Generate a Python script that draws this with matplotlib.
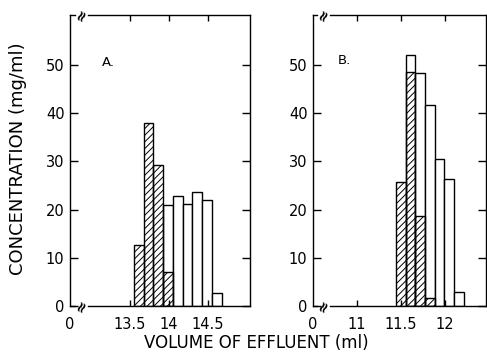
import matplotlib
matplotlib.use("Agg")
from matplotlib import pyplot as plt

plt.rcParams['font.family'] = 'DejaVu Sans'
plt.rcParams['hatch.linewidth'] = 0.7

# panel A: volume (ml) at bar centres, concentration (mg/ml)
vol_a_hatched = [13.6125, 13.7375, 13.8625, 13.9875]
conc_a_hatched = [12.7, 38.0, 29.3, 7.1]
vol_a_open = [13.9875, 14.1125, 14.2375, 14.3625, 14.4875, 14.6125]
conc_a_open = [21.0, 22.9, 21.2, 23.6, 21.9, 2.6]
width_a = 0.125

# panel B
vol_b_hatched = [11.50, 11.61, 11.72, 11.83]
conc_b_hatched = [25.7, 48.6, 18.6, 1.6]
vol_b_open = [11.61, 11.72, 11.83, 11.94, 12.05, 12.16]
conc_b_open = [52.2, 48.3, 41.8, 30.6, 26.3, 3.0]
width_b = 0.11

xticks_a = [13.5, 14, 14.5]
xlabels_a = ['13.5', '14', '14.5']
xticks_b = [11, 11.5, 12]
xlabels_b = ['11', '11.5', '12']
yticks = [0, 10, 20, 30, 40, 50]

fig = plt.figure(figsize=(4.87, 3.62), dpi=100)
ax_a = fig.add_axes([70/487, 56/362, 180/487, 291/362])
ax_b = fig.add_axes([313/487, 56/362, 173/487, 291/362])


def draw_panel(ax, xv_o, yv_o, xv_h, yv_h, w, xlim, xt, xl, letter, lx, ly):
    ax.bar(xv_o, yv_o, width=w, color='white', edgecolor='black', linewidth=1.0)
    ax.bar(xv_h, yv_h, width=w, color='none', edgecolor='black', linewidth=1.0,
           hatch='/////')
    ax.set_xlim(*xlim)
    ax.set_ylim(0, 60.4)

    # broken top / bottom axis lines
    ax.spines['top'].set_visible(False)
    ax.spines['bottom'].set_visible(False)
    for s in ['left', 'right']:
        ax.spines[s].set_linewidth(1.0)
    for yy in [0, 1]:
        ax.plot([0, 0.025], [yy, yy], color='black', lw=1.0, transform=ax.transAxes,
                clip_on=False)
        ax.plot([0.1, 1], [yy, yy], color='black', lw=1.0, transform=ax.transAxes,
                clip_on=False)
        ax.text(0.062, yy, '≈', transform=ax.transAxes, ha='center', va='center',
                rotation=65, fontsize=10.5, fontweight='bold')

    ax.set_xticks(xt, xl)
    ax.set_xticks([xlim[0]], ['0'], minor=True)
    ax.tick_params(axis='x', which='major', direction='in', top=True, length=4,
                   width=1.0, pad=8, labelsize=10.5)
    ax.tick_params(axis='x', which='minor', length=0, pad=8, labelsize=10.5)
    ax.set_yticks(yticks)
    ax.tick_params(axis='y', direction='in', left=True, right=True, length=6,
                   width=1.0, pad=4, labelsize=10.5)

    ax.text(lx, ly, letter, transform=ax.transAxes, ha='left', va='center',
            fontsize=9.5)


draw_panel(ax_a, vol_a_open, conc_a_open, vol_a_hatched, conc_a_hatched, width_a,
           (12.73, 15.04), xticks_a, xlabels_a, 'A.', 0.175, 0.838)
draw_panel(ax_b, vol_b_open, conc_b_open, vol_b_hatched, conc_b_hatched, width_b,
           (10.5, 12.47), xticks_b, xlabels_b, 'B.', 0.145, 0.845)

fig.text(18/487, 1 - 159/362, 'CONCENTRATION (mg/ml)', rotation=90,
         ha='center', va='center', fontsize=13)
fig.text(256/487, 1 - 343/362, 'VOLUME OF EFFLUENT (ml)', ha='center',
         va='center', fontsize=12)

fig.savefig('out.png', dpi=100)
